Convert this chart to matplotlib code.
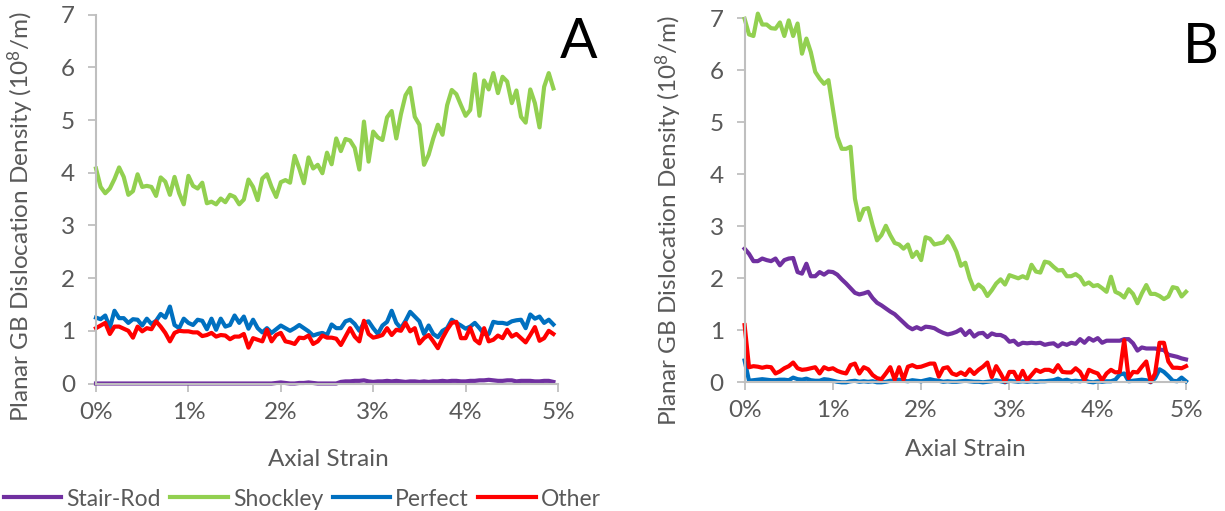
import numpy as np
import matplotlib
matplotlib.use("Agg")
import matplotlib.pyplot as plt
from matplotlib.ticker import FixedLocator

plt.rcParams['font.family'] = ['Lato', 'DejaVu Sans']
plt.rcParams['mathtext.default'] = 'regular'

# ---------------- data ----------------
series_names = ["Stair-Rod", "Shockley", "Perfect", "Other"]
series_colors = ["#7030A0", "#92D050", "#0070C0", "#FF0000"]

strain_step = 0.05  # % per sample
strain_ticks = [0, 1, 2, 3, 4, 5]
strain_tick_labels = ["0%", "1%", "2%", "3%", "4%", "5%"]
density_ticks = [0, 1, 2, 3, 4, 5, 6, 7]

# Panel A
a_stair_rod = [0.0] * 39 + [
    0.01, 0.02, 0.01, 0.0, 0.0, 0.01, 0.01, 0.02, 0.01, 0.0,
    0.0, 0.0, 0.0, 0.0, 0.03, 0.04, 0.04, 0.05, 0.05, 0.06,
    0.04, 0.03, 0.04, 0.04, 0.05, 0.04, 0.05, 0.04, 0.03, 0.04,
    0.04, 0.03, 0.04, 0.03, 0.04, 0.04, 0.05, 0.04, 0.05, 0.05,
    0.04, 0.04, 0.05, 0.05, 0.06, 0.06, 0.07, 0.06, 0.05, 0.05,
    0.06, 0.06, 0.04, 0.05, 0.05, 0.05, 0.04, 0.04, 0.05, 0.05,
    0.03]
a_shockley = [
    4.08, 3.73, 3.61, 3.70, 3.88, 4.10, 3.92, 3.58, 3.65, 3.97,
    3.73, 3.75, 3.73, 3.56, 3.91, 3.83, 3.58, 3.92, 3.61, 3.40,
    3.94, 3.75, 3.70, 3.81, 3.42, 3.45, 3.40, 3.51, 3.44, 3.58,
    3.54, 3.40, 3.49, 3.87, 3.73, 3.48, 3.89, 3.97, 3.73, 3.54,
    3.82, 3.86, 3.81, 4.32, 4.08, 3.80, 4.29, 4.08, 4.15, 3.99,
    4.38, 4.16, 4.65, 4.41, 4.64, 4.61, 4.47, 4.06, 4.97, 4.21,
    4.78, 4.67, 4.62, 5.05, 5.17, 4.65, 5.11, 5.47, 5.61, 5.06,
    4.91, 4.15, 4.34, 4.65, 4.91, 4.72, 5.28, 5.57, 5.49, 5.28,
    5.08, 5.19, 5.87, 5.08, 5.75, 5.58, 5.89, 5.51, 5.82, 5.73,
    5.32, 5.56, 5.06, 4.95, 5.58, 5.32, 4.86, 5.63, 5.89, 5.60]
a_perfect = [
    1.25, 1.22, 1.29, 1.06, 1.38, 1.24, 1.24, 1.15, 1.22, 1.21,
    1.10, 1.23, 1.13, 1.19, 1.32, 1.25, 1.46, 1.11, 1.05, 1.23,
    1.15, 1.11, 1.21, 1.19, 1.03, 1.23, 1.02, 1.23, 1.08, 1.11,
    1.29, 1.15, 1.27, 1.04, 1.21, 1.05, 0.97, 1.05, 0.96, 1.03,
    1.10, 1.05, 1.00, 1.05, 1.11, 1.05, 0.99, 0.91, 0.94, 0.96,
    0.92, 1.12, 1.05, 1.05, 1.18, 1.21, 1.13, 1.00, 1.15, 1.18,
    1.05, 0.94, 1.10, 1.17, 1.38, 1.15, 1.05, 1.19, 1.36, 1.27,
    1.18, 0.94, 1.10, 0.94, 0.88, 1.00, 1.05, 1.21, 1.15, 1.10,
    1.04, 1.08, 1.15, 1.05, 0.94, 0.94, 1.17, 1.15, 1.15, 1.13,
    1.18, 1.20, 1.21, 1.05, 1.31, 1.23, 1.27, 1.15, 1.21, 1.12]
a_other = [
    1.05, 1.10, 1.15, 0.94, 1.08, 1.08, 1.04, 1.00, 0.87, 1.08,
    0.99, 1.05, 1.03, 1.18, 1.08, 0.96, 0.80, 0.96, 1.00, 0.99,
    0.99, 0.97, 0.97, 0.90, 0.92, 0.96, 0.89, 0.92, 0.91, 0.84,
    0.89, 0.89, 0.94, 0.68, 0.86, 0.83, 0.80, 1.02, 0.80, 0.92,
    0.96, 0.80, 0.78, 0.75, 0.87, 0.86, 0.91, 0.75, 0.80, 0.91,
    0.87, 0.87, 0.85, 0.73, 0.89, 1.05, 0.89, 0.80, 1.19, 0.94,
    0.87, 0.89, 0.92, 1.05, 0.92, 1.02, 1.00, 1.15, 0.99, 1.05,
    0.76, 0.86, 0.92, 0.80, 0.67, 0.86, 1.02, 1.15, 1.17, 0.86,
    0.86, 1.06, 0.83, 0.76, 1.05, 0.80, 0.83, 0.91, 0.86, 1.02,
    0.89, 0.94, 0.86, 0.78, 0.92, 1.07, 0.81, 0.86, 1.00, 0.94]

# Panel B
b_stair_rod = [
    2.57, 2.47, 2.33, 2.33, 2.38, 2.35, 2.33, 2.38, 2.25, 2.35,
    2.38, 2.39, 2.12, 2.09, 2.28, 2.04, 2.04, 2.12, 2.07, 2.13,
    2.12, 2.07, 1.98, 1.90, 1.81, 1.72, 1.69, 1.71, 1.74, 1.62,
    1.53, 1.48, 1.42, 1.36, 1.31, 1.23, 1.15, 1.07, 1.02, 1.06,
    1.02, 1.07, 1.06, 1.04, 0.99, 0.95, 0.92, 0.94, 0.97, 1.02,
    0.91, 0.99, 0.88, 0.94, 0.95, 0.87, 0.94, 0.91, 0.91, 0.87,
    0.78, 0.80, 0.72, 0.76, 0.75, 0.76, 0.75, 0.76, 0.72, 0.74,
    0.75, 0.69, 0.75, 0.72, 0.76, 0.74, 0.83, 0.76, 0.85, 0.80,
    0.85, 0.76, 0.80, 0.80, 0.80, 0.80, 0.83, 0.83, 0.75, 0.61,
    0.67, 0.65, 0.65, 0.65, 0.63, 0.62, 0.53, 0.51, 0.49, 0.46,
    0.44]
b_shockley = [
    6.99, 6.69, 6.66, 7.09, 6.88, 6.88, 6.81, 6.80, 6.92, 6.66,
    6.96, 6.66, 6.90, 6.32, 6.61, 6.35, 5.97, 5.84, 5.74, 5.81,
    5.26, 4.72, 4.49, 4.49, 4.53, 3.53, 3.12, 3.33, 3.35, 3.02,
    2.73, 2.83, 3.01, 2.83, 2.68, 2.65, 2.57, 2.65, 2.41, 2.51,
    2.35, 2.79, 2.76, 2.65, 2.67, 2.69, 2.81, 2.69, 2.51, 2.24,
    2.30, 2.00, 1.79, 1.88, 1.81, 1.66, 1.77, 1.90, 1.98, 1.88,
    2.06, 2.03, 2.00, 2.04, 2.00, 2.26, 2.13, 2.11, 2.32, 2.30,
    2.22, 2.15, 2.16, 2.04, 2.04, 2.08, 2.02, 1.88, 1.92, 1.85,
    1.87, 1.81, 1.74, 2.03, 1.74, 1.70, 1.63, 1.79, 1.70, 1.52,
    1.71, 1.87, 1.70, 1.70, 1.66, 1.60, 1.65, 1.83, 1.81, 1.65,
    1.74]
b_perfect = [
    0.42, 0.03, 0.04, 0.05, 0.06, 0.05, 0.04, 0.04, 0.05, 0.05,
    0.04, 0.09, 0.06, 0.05, 0.07, 0.04, 0.03, 0.03, 0.06, 0.05,
    0.03, 0.01, 0.00, 0.00, 0.02, 0.03, 0.01, 0.02, 0.01, 0.02,
    0.00, 0.00, 0.01, 0.03, 0.03, 0.05, 0.03, 0.02, 0.04, 0.03,
    0.02, 0.04, 0.06, 0.04, 0.03, 0.01, 0.02, 0.01, 0.01, 0.02,
    0.03, 0.02, 0.01, 0.01, 0.00, 0.01, 0.02, 0.04, 0.02, 0.00,
    0.03, 0.02, 0.01, 0.02, 0.01, 0.02, 0.01, 0.02, 0.02, 0.03,
    0.04, 0.07, 0.03, 0.05, 0.02, 0.03, 0.02, 0.04, 0.01, 0.00,
    0.02, 0.01, 0.02, 0.02, 0.05, 0.15, 0.17, 0.02, 0.03, 0.04,
    0.05, 0.04, 0.00, 0.08, 0.25, 0.20, 0.12, 0.03, 0.02, 0.09,
    0.02]
b_other = [
    1.10, 0.29, 0.31, 0.30, 0.28, 0.30, 0.29, 0.17, 0.21, 0.27,
    0.31, 0.38, 0.27, 0.24, 0.25, 0.27, 0.29, 0.17, 0.29, 0.25,
    0.27, 0.22, 0.19, 0.17, 0.33, 0.36, 0.17, 0.29, 0.25, 0.14,
    0.08, 0.06, 0.17, 0.29, 0.05, 0.29, 0.05, 0.30, 0.33, 0.29,
    0.30, 0.33, 0.36, 0.36, 0.11, 0.27, 0.29, 0.17, 0.14, 0.19,
    0.14, 0.25, 0.16, 0.24, 0.30, 0.38, 0.10, 0.31, 0.17, 0.01,
    0.20, 0.20, 0.04, 0.22, 0.04, 0.14, 0.24, 0.20, 0.24, 0.24,
    0.20, 0.33, 0.20, 0.19, 0.19, 0.27, 0.20, 0.04, 0.24, 0.20,
    0.17, 0.04, 0.17, 0.24, 0.19, 0.20, 0.81, 0.08, 0.20, 0.19,
    0.30, 0.40, 0.01, 0.17, 0.76, 0.76, 0.40, 0.28, 0.28, 0.27,
    0.31]

panel_a = [a_stair_rod, a_shockley, a_perfect, a_other]
panel_b = [b_stair_rod, b_shockley, b_perfect, b_other]

# ---------------- layout ----------------
W, H = 1225, 511
fig = plt.figure(figsize=(W / 100, H / 100), dpi=100)

TEXT_GRAY = "#595959"
AXIS_GRAY = "#BFBFBF"
FS = 17.5
LEGEND_FS = 16.5


def px_axes(x0, x1, y_top, y_bot):
    return fig.add_axes([x0 / W, 1 - y_bot / H, (x1 - x0) / W, (y_bot - y_top) / H])


def style_axes(ax):
    for side in ("top", "right"):
        ax.spines[side].set_visible(False)
    for side in ("left", "bottom"):
        ax.spines[side].set_color(AXIS_GRAY)
        ax.spines[side].set_linewidth(1.5)
    ax.set_xlim(0, 5)
    ax.set_ylim(0, 7)
    ax.xaxis.set_major_locator(FixedLocator(strain_ticks))
    ax.set_xticklabels(strain_tick_labels)
    ax.yaxis.set_major_locator(FixedLocator(density_ticks))
    ax.tick_params(axis="both", colors=AXIS_GRAY, labelcolor=TEXT_GRAY,
                   labelsize=FS, length=6, width=1.3, direction="out")
    ax.tick_params(axis="x", pad=7)
    ax.tick_params(axis="y", pad=9)


def draw_panel(ax, data):
    handles = []
    for vals, name, color in zip(data, series_names, series_colors):
        x = np.arange(len(vals)) * strain_step
        (ln,) = ax.plot(x, vals, color=color, lw=3.0, label=name,
                        clip_on=False, solid_joinstyle="round")
        handles.append(ln)
    return handles


axA = px_axes(96, 558, 14.6, 383.5)
axB = px_axes(744.6, 1186, 18.3, 382.3)
for ax in (axA, axB):
    style_axes(ax)

handles = draw_panel(axA, panel_a)
draw_panel(axB, panel_b)

ylabel = "Planar GB Dislocation Density (10$^{8}$/m)"
fig.text(21 / W, 1 - 217 / H, ylabel, rotation=90, ha="center", va="center",
         fontsize=FS, color=TEXT_GRAY)
fig.text(669 / W, 1 - 221 / H, ylabel, rotation=90, ha="center", va="center",
         fontsize=FS, color=TEXT_GRAY)
fig.text(328 / W, 1 - 460 / H, "Axial Strain", ha="center", va="center",
         fontsize=FS, color=TEXT_GRAY)
fig.text(965 / W, 1 - 450 / H, "Axial Strain", ha="center", va="center",
         fontsize=FS, color=TEXT_GRAY)

fig.text(579 / W, 1 - 42 / H, "A", ha="center", va="center", fontsize=40, color="black")
fig.text(1201 / W, 1 - 47 / H, "B", ha="center", va="center", fontsize=40, color="black")

fig.legend(handles, series_names, loc="center left",
           bbox_to_anchor=(4 / W, 1 - 499 / H), ncol=4, frameon=False,
           fontsize=LEGEND_FS, labelcolor=TEXT_GRAY, handlelength=2.5,
           handletextpad=0.22, columnspacing=0.42, borderpad=0,
           borderaxespad=0)

fig.savefig("out.png", dpi=100)
